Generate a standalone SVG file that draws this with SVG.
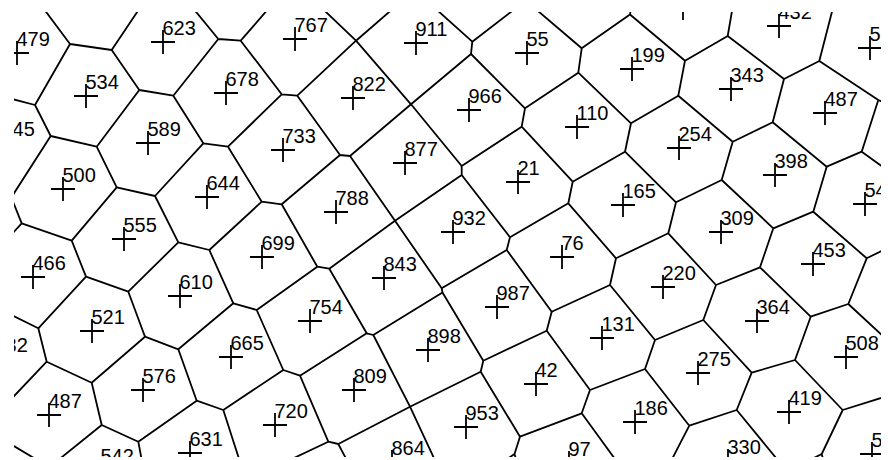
<svg xmlns="http://www.w3.org/2000/svg" xmlns:xlink="http://www.w3.org/1999/xlink" width="888" height="460" viewBox="0 0 888 460">
<style>
.e{fill:none;stroke:#000;stroke-width:1.8;stroke-linejoin:round}
.c{fill:none;stroke:#000;stroke-width:1.8}
text{font-family:"Liberation Sans",Arial,sans-serif;font-size:20px;fill:#000}
</style>
<defs>
<clipPath id="clip"><rect x="14" y="12" width="867" height="445"/></clipPath>
<path id="x" class="c" d="M-12 0H12M0-12V12"/>
</defs>
<rect width="888" height="460" fill="#fff"/>
<g clip-path="url(#clip)">
<g id="edges" class="e">
<path d="M37.2 0L70 44L111.7 50L145.2 0M70 44L35 105M111.7 50L139.3 90L173.3 95.7M139.3 90L96.7 146.7M173.3 95.7L218.3 39M173.3 95.7L203.3 143.3M186.3 0L218.3 39L240.7 40.7L276 0M240.7 40.7L281.7 94.3M0 95.8L35 105L50.7 136L96.7 146.7M50.7 136L0 215.1M96.7 146.7L116.7 187.3M203.3 143.3L228 146.7M203.3 143.3L155 196M281.7 94.3L297.3 95.7M281.7 94.3L228 146.7M297.3 95.7L356 40.7M297.3 95.7L340 155M313.4 0L356 40.7L403 0M356 40.7L411 104.3L471 54M411 104.3L350 156M411 104.3L461.7 166M340 155L350 156M340 155L281.7 204.3M350 156L395 220.7M228 146.7L261.7 201.7L281.7 204.3M261.7 201.7L209.3 250M281.7 204.3L317.3 266.7"/>
<path d="M425.9 0L472.3 41.7L526.5 0M472.3 41.7L471 54L525 108.3L578.3 72.7L581.7 48.3M525 108.3L521.7 126.7M578.3 72.7L631 123.3M525.1 0L581.7 48.3L630 14.5L632.2 0M630 14.5L685 60.7M631 123.3L678.3 95.7M631 123.3L625 151.7L572.7 181.7M625 151.7L676 202.3M521.7 126.7L572.7 181.7M521.7 126.7L461.7 166L461.7 175L395 220.7M461.7 175L510 237.3"/>
<path d="M733.9 0L727.7 36L685 60.7L678.3 95.7L732.7 141.7M727.7 36L784 79L819.3 61M784 79L772.7 122.3M835 0L819.3 61L878.3 100L895 108M878.3 100L861.7 151.7L826.7 166.7M861.7 151.7L895 175.8M772.7 122.3L732.7 141.7M772.7 122.3L826.7 166.7M732.7 141.7L721.7 180"/>
<path d="M0 169.5L21.7 223.3L0 247M21.7 223.3L71.7 240.7L116.7 187.3L155 196L178.3 242.3L209.3 250L233.3 303.3M71.7 240.7L86 276.7L128.3 291.7L178.3 242.3M128.3 291.7L145 336.7M86 276.7L38.3 328.3"/>
<path d="M395 220.7L441.7 288.3L506.7 250M395 220.7L329.3 268.7M441.7 288.3L442.5 292.5L373.3 335M442.5 292.5L483.3 360.7M317.3 266.7L329.3 268.7L366.7 333.3M317.3 266.7L256.7 310M233.3 303.3L256.7 310L283.3 370M233.3 303.3L178.3 349.3"/>
<path d="M510 237.3L506.7 250L551.7 311.7M510 237.3L568.3 203.3L572.7 181.7M568.3 203.3L616 258.3L668.3 233.3M616 258.3L610 285L551.7 311.7M610 285L655 340M676 202.3L721.7 180M676 202.3L668.3 233.3L716 285L760 267.3M716 285L703.3 320M721.7 180L773.3 228.3L813.3 211.7L826.7 166.7M773.3 228.3L760 267.3M813.3 211.7L866.7 258.3L895 244.3M866.7 258.3L848.3 304L895 347.2M848.3 304L810.7 316.7L760 267.3"/>
<path d="M0 309.2L38.3 328.3L46.7 361.7L0 410.8M46.7 361.7L91.7 382.7L145 336.7L178.3 349.3L196.7 400.7L223.3 410M91.7 382.7L101.7 425L138.3 441.7L196.7 400.7M101.7 425L45.9 470M138.3 441.7L143.6 470M223.3 410L283.3 370L300 375.7L366.7 333.3L373.3 335L410 406.7M223.3 410L242.6 470M300 375.7L328.3 441.7L338.3 444L410 406.7M410 406.7L480.7 371.7M410 406.7L439.5 470M328.3 441.7L268.7 470M338.3 444L352 470M0 437.7L50 467.7"/>
<path d="M483.3 360.7L546.7 330.7L551.7 311.7M483.3 360.7L480.7 371.7L520 436.7L514.5 454M514.5 454L491.4 470M514.5 454L519 470M520 436.7L581.7 413.3L590 390L546.7 330.7M581.7 413.3L623 470M590 390L645 369L655 340L703.3 320L751.7 372.7L795 360L810.7 316.7M645 369L689.3 425.7L736.7 410L751.7 372.7M795 360L842.7 410L895 393.6M842.7 410L821.7 454L790 470M821.7 454L826 470M736.7 410L785.9 470M689.3 425.7L666.4 470"/>
</g>
<g id="site-479"><use xlink:href="#x" x="17" y="53"/><text x="16.5" y="46">479</text></g>
<g id="site-623"><use xlink:href="#x" x="163" y="42"/><text x="162.5" y="35">623</text></g>
<g id="site-767"><use xlink:href="#x" x="295" y="39"/><text x="294.5" y="32">767</text></g>
<g id="site-911"><use xlink:href="#x" x="416" y="43"/><text x="415.5" y="36">911</text></g>
<g id="site-55"><use xlink:href="#x" x="527" y="53"/><text x="526.5" y="46">55</text></g>
<g id="site-199"><use xlink:href="#x" x="632" y="69"/><text x="631.5" y="62">199</text></g>
<g id="site-288"><use xlink:href="#x" x="683" y="8"/></g>
<g id="site-1432"><use xlink:href="#x" x="779" y="26"/><text x="778.5" y="19">432</text></g>
<g id="site-1576"><use xlink:href="#x" x="870" y="48"/><text x="869.5" y="41">576</text></g>
<g id="site-534"><use xlink:href="#x" x="86" y="96"/><text x="85.5" y="89">534</text></g>
<g id="site-678"><use xlink:href="#x" x="226" y="93"/><text x="225.5" y="86">678</text></g>
<g id="site-822"><use xlink:href="#x" x="353" y="98"/><text x="352.5" y="91">822</text></g>
<g id="site-966"><use xlink:href="#x" x="469" y="110"/><text x="468.5" y="103">966</text></g>
<g id="site-110"><use xlink:href="#x" x="577" y="127"/><text x="576.5" y="120">110</text></g>
<g id="site-343"><use xlink:href="#x" x="731" y="89"/><text x="730.5" y="82">343</text></g>
<g id="site-1487"><use xlink:href="#x" x="825" y="113"/><text x="824.5" y="106">487</text></g>
<g id="site-445"><use xlink:href="#x" x="2" y="143"/><text x="1.5" y="136">445</text></g>
<g id="site-589"><use xlink:href="#x" x="148" y="143"/><text x="147.5" y="136">589</text></g>
<g id="site-733"><use xlink:href="#x" x="283" y="150"/><text x="282.5" y="143">733</text></g>
<g id="site-877"><use xlink:href="#x" x="405" y="163"/><text x="404.5" y="156">877</text></g>
<g id="site-21"><use xlink:href="#x" x="518" y="182"/><text x="517.5" y="175">21</text></g>
<g id="site-254"><use xlink:href="#x" x="679" y="148"/><text x="678.5" y="141">254</text></g>
<g id="site-398"><use xlink:href="#x" x="775" y="175"/><text x="774.5" y="168">398</text></g>
<g id="site-1542"><use xlink:href="#x" x="865" y="204"/><text x="864.5" y="197">542</text></g>
<g id="site-500"><use xlink:href="#x" x="63" y="189"/><text x="62.5" y="182">500</text></g>
<g id="site-644"><use xlink:href="#x" x="207" y="197"/><text x="206.5" y="190">644</text></g>
<g id="site-788"><use xlink:href="#x" x="336" y="212"/><text x="335.5" y="205">788</text></g>
<g id="site-932"><use xlink:href="#x" x="453" y="232"/><text x="452.5" y="225">932</text></g>
<g id="site-165"><use xlink:href="#x" x="623" y="205"/><text x="622.5" y="198">165</text></g>
<g id="site-309"><use xlink:href="#x" x="721" y="232"/><text x="720.5" y="225">309</text></g>
<g id="site-453"><use xlink:href="#x" x="813" y="264"/><text x="812.5" y="257">453</text></g>
<g id="site-555"><use xlink:href="#x" x="124" y="239"/><text x="123.5" y="232">555</text></g>
<g id="site-699"><use xlink:href="#x" x="262" y="257"/><text x="261.5" y="250">699</text></g>
<g id="site-843"><use xlink:href="#x" x="384" y="278"/><text x="383.5" y="271">843</text></g>
<g id="site-76"><use xlink:href="#x" x="562" y="257"/><text x="561.5" y="250">76</text></g>
<g id="site-220"><use xlink:href="#x" x="663" y="287"/><text x="662.5" y="280">220</text></g>
<g id="site-466"><use xlink:href="#x" x="33" y="277"/><text x="32.5" y="270">466</text></g>
<g id="site-610"><use xlink:href="#x" x="180" y="296"/><text x="179.5" y="289">610</text></g>
<g id="site-754"><use xlink:href="#x" x="310" y="321"/><text x="309.5" y="314">754</text></g>
<g id="site-987"><use xlink:href="#x" x="497" y="307"/><text x="496.5" y="300">987</text></g>
<g id="site-131"><use xlink:href="#x" x="602" y="338"/><text x="601.5" y="331">131</text></g>
<g id="site-364"><use xlink:href="#x" x="757" y="321"/><text x="756.5" y="314">364</text></g>
<g id="site-508"><use xlink:href="#x" x="846" y="357"/><text x="845.5" y="350">508</text></g>
<g id="site-521"><use xlink:href="#x" x="92" y="331"/><text x="91.5" y="324">521</text></g>
<g id="site-665"><use xlink:href="#x" x="231" y="357"/><text x="230.5" y="350">665</text></g>
<g id="site-898"><use xlink:href="#x" x="428" y="350"/><text x="427.5" y="343">898</text></g>
<g id="site-42"><use xlink:href="#x" x="536" y="384"/><text x="535.5" y="377">42</text></g>
<g id="site-275"><use xlink:href="#x" x="698" y="373"/><text x="697.5" y="366">275</text></g>
<g id="site-432"><use xlink:href="#x" x="-5" y="359"/><text x="-5.5" y="352">432</text></g>
<g id="site-576"><use xlink:href="#x" x="143" y="390"/><text x="142.5" y="383">576</text></g>
<g id="site-809"><use xlink:href="#x" x="354" y="390"/><text x="353.5" y="383">809</text></g>
<g id="site-419"><use xlink:href="#x" x="789" y="412"/><text x="788.5" y="405">419</text></g>
<g id="site-487"><use xlink:href="#x" x="49" y="415"/><text x="48.5" y="408">487</text></g>
<g id="site-720"><use xlink:href="#x" x="275" y="425"/><text x="274.5" y="418">720</text></g>
<g id="site-953"><use xlink:href="#x" x="466" y="427"/><text x="465.5" y="420">953</text></g>
<g id="site-186"><use xlink:href="#x" x="635" y="422"/><text x="634.5" y="415">186</text></g>
<g id="site-631"><use xlink:href="#x" x="190" y="453"/><text x="189.5" y="446">631</text></g>
<g id="site-542"><use xlink:href="#x" x="101" y="470"/><text x="100.5" y="463">542</text></g>
<g id="site-864"><use xlink:href="#x" x="392" y="462"/><text x="391.5" y="455">864</text></g>
<g id="site-97"><use xlink:href="#x" x="569" y="463"/><text x="568.5" y="456">97</text></g>
<g id="site-330"><use xlink:href="#x" x="728" y="461"/><text x="727.5" y="454">330</text></g>
<g id="site-1563"><use xlink:href="#x" x="872" y="454"/><text x="871.5" y="447">563</text></g>
</g>
</svg>
